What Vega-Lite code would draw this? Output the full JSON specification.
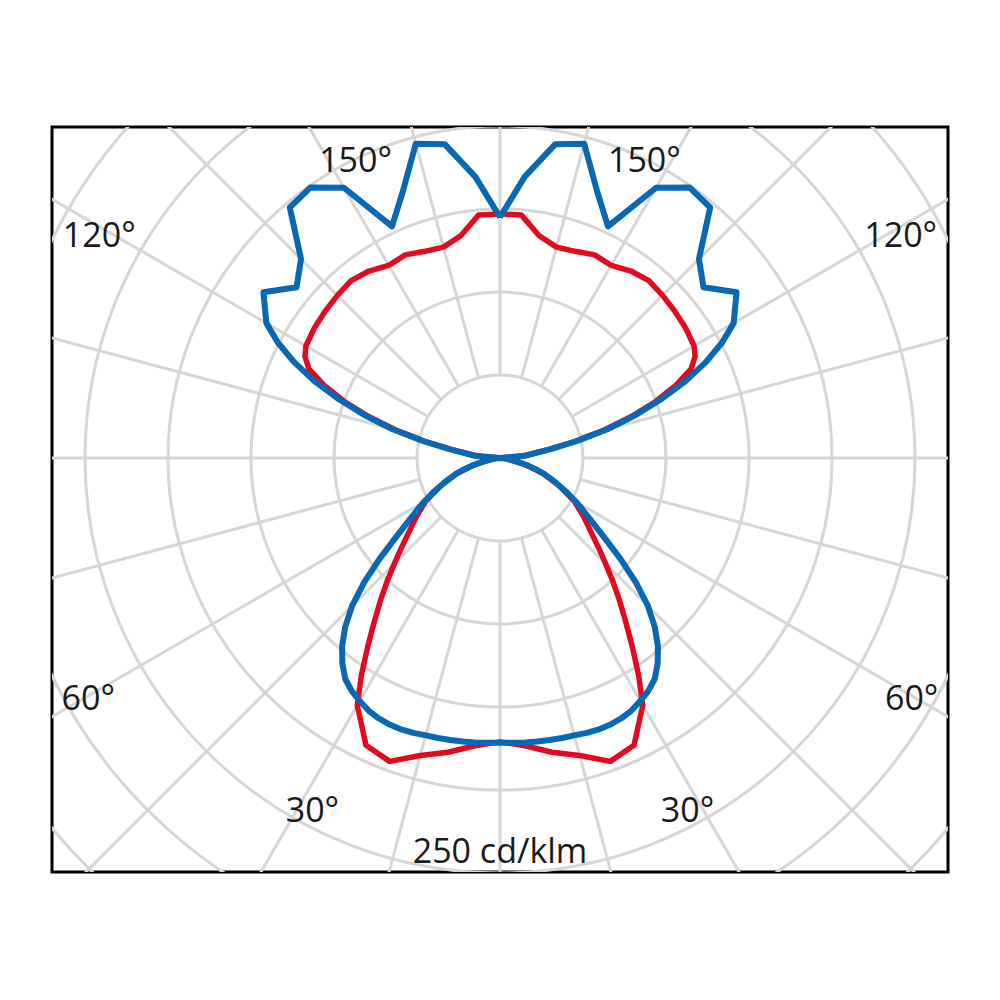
{
  "$schema": "https://vega.github.io/schema/vega-lite/v6.json",
  "width": 896,
  "height": 745,
  "autosize": {"type": "none"},
  "padding": {"left": 52, "top": 127, "right": 52, "bottom": 128},
  "background": "white",
  "config": {
    "view": {"stroke": "black", "strokeWidth": 3},
    "text": {"font": "Open Sans"}
  },
  "datasets": {
    "rings": [{"r": 50}, {"r": 100}, {"r": 150}, {"r": 200}, {"r": 250}, {"r": 300}, {"r": 350}, {"r": 400}],
    "spokes": [
      {"a": 0}, {"a": 15}, {"a": 30}, {"a": 45}, {"a": 60}, {"a": 75}, {"a": 90}, {"a": 105},
      {"a": 120}, {"a": 135}, {"a": 150}, {"a": 165}, {"a": 180}, {"a": 195}, {"a": 210}, {"a": 225},
      {"a": 240}, {"a": 255}, {"a": 270}, {"a": 285}, {"a": 300}, {"a": 315}, {"a": 330}, {"a": 345}
    ],
    "blue": [
      {"g": -180, "cd": 145}, {"g": -175, "cd": 170}, {"g": -170, "cd": 192}, {"g": -165, "cd": 196},
      {"g": -160, "cd": 171}, {"g": -155, "cd": 154}, {"g": -150, "cd": 188}, {"g": -145, "cd": 199},
      {"g": -140, "cd": 197}, {"g": -135, "cd": 169.5}, {"g": -130, "cd": 160}, {"g": -125, "cd": 174},
      {"g": -120, "cd": 162.5}, {"g": -117.5, "cd": 151}, {"g": -115, "cd": 137}, {"g": -112.5, "cd": 121},
      {"g": -110, "cd": 103}, {"g": -107.5, "cd": 85}, {"g": -105, "cd": 67}, {"g": -102.5, "cd": 48},
      {"g": -100, "cd": 31}, {"g": -95, "cd": 15}, {"g": -90, "cd": 0},
      {"g": -85, "cd": 3}, {"g": -80, "cd": 7}, {"g": -77.5, "cd": 11.5}, {"g": -75, "cd": 17},
      {"g": -72.5, "cd": 22.5}, {"g": -70, "cd": 28.5}, {"g": -67.5, "cd": 34}, {"g": -65, "cd": 39.5},
      {"g": -62.5, "cd": 46}, {"g": -60, "cd": 53}, {"g": -57.5, "cd": 60}, {"g": -55, "cd": 68.5},
      {"g": -52.5, "cd": 80}, {"g": -50, "cd": 95}, {"g": -47.5, "cd": 111}, {"g": -45, "cd": 126},
      {"g": -42.5, "cd": 138}, {"g": -40, "cd": 148}, {"g": -37.5, "cd": 156}, {"g": -35, "cd": 162.5},
      {"g": -32.5, "cd": 166.3}, {"g": -30, "cd": 169}, {"g": -27.5, "cd": 171.5}, {"g": -25, "cd": 173},
      {"g": -22.5, "cd": 173.8}, {"g": -20, "cd": 174}, {"g": -17.5, "cd": 173.6}, {"g": -15, "cd": 173},
      {"g": -12.5, "cd": 172.8}, {"g": -10, "cd": 172.5}, {"g": -7.5, "cd": 172.2}, {"g": -5, "cd": 172},
      {"g": -2.5, "cd": 171.7},
      {"g": 0, "cd": 171.5},
      {"g": 2.5, "cd": 171.7}, {"g": 5, "cd": 172}, {"g": 7.5, "cd": 172.2}, {"g": 10, "cd": 172.5},
      {"g": 12.5, "cd": 172.8}, {"g": 15, "cd": 173}, {"g": 17.5, "cd": 173.6}, {"g": 20, "cd": 174},
      {"g": 22.5, "cd": 173.8}, {"g": 25, "cd": 173}, {"g": 27.5, "cd": 171.5}, {"g": 30, "cd": 169},
      {"g": 32.5, "cd": 166.3}, {"g": 35, "cd": 162.5}, {"g": 37.5, "cd": 156}, {"g": 40, "cd": 148},
      {"g": 42.5, "cd": 138}, {"g": 45, "cd": 126}, {"g": 47.5, "cd": 111}, {"g": 50, "cd": 95},
      {"g": 52.5, "cd": 80}, {"g": 55, "cd": 68.5}, {"g": 57.5, "cd": 60}, {"g": 60, "cd": 53},
      {"g": 62.5, "cd": 46}, {"g": 65, "cd": 39.5}, {"g": 67.5, "cd": 34}, {"g": 70, "cd": 28.5},
      {"g": 72.5, "cd": 22.5}, {"g": 75, "cd": 17}, {"g": 77.5, "cd": 11.5}, {"g": 80, "cd": 7},
      {"g": 85, "cd": 3}, {"g": 90, "cd": 0},
      {"g": 95, "cd": 15}, {"g": 100, "cd": 31}, {"g": 102.5, "cd": 48}, {"g": 105, "cd": 67},
      {"g": 107.5, "cd": 85}, {"g": 110, "cd": 103}, {"g": 112.5, "cd": 121}, {"g": 115, "cd": 137},
      {"g": 117.5, "cd": 151}, {"g": 120, "cd": 162.5}, {"g": 125, "cd": 174}, {"g": 130, "cd": 160},
      {"g": 135, "cd": 169.5}, {"g": 140, "cd": 197}, {"g": 145, "cd": 199}, {"g": 150, "cd": 188},
      {"g": 155, "cd": 154}, {"g": 160, "cd": 171}, {"g": 165, "cd": 196}, {"g": 170, "cd": 192},
      {"g": 175, "cd": 170}, {"g": 180, "cd": 145}
    ],
    "red": [
      {"g": -180, "cd": 147}, {"g": -175, "cd": 147}, {"g": -170, "cd": 136}, {"g": -165, "cd": 131.5},
      {"g": -160, "cd": 132.5}, {"g": -155, "cd": 135}, {"g": -150, "cd": 134}, {"g": -145, "cd": 137.5},
      {"g": -140, "cd": 139.5}, {"g": -135, "cd": 138.5}, {"g": -130, "cd": 137.5}, {"g": -125, "cd": 136.5},
      {"g": -120, "cd": 135}, {"g": -117.5, "cd": 132.5}, {"g": -115, "cd": 127}, {"g": -112.5, "cd": 115},
      {"g": -110, "cd": 100}, {"g": -107.5, "cd": 83}, {"g": -105, "cd": 65}, {"g": -102.5, "cd": 46.5},
      {"g": -100, "cd": 30}, {"g": -95, "cd": 14}, {"g": -90, "cd": 0},
      {"g": -85, "cd": 2.5}, {"g": -80, "cd": 6.5}, {"g": -75, "cd": 16.5}, {"g": -70, "cd": 28},
      {"g": -65, "cd": 39}, {"g": -60, "cd": 51.5}, {"g": -55, "cd": 61.5}, {"g": -50, "cd": 73},
      {"g": -47.5, "cd": 81}, {"g": -45, "cd": 90}, {"g": -42.5, "cd": 100.5}, {"g": -40, "cd": 112},
      {"g": -37.5, "cd": 124.5}, {"g": -35, "cd": 139}, {"g": -32.5, "cd": 155.5}, {"g": -30, "cd": 172},
      {"g": -25, "cd": 191}, {"g": -20, "cd": 194.5}, {"g": -15, "cd": 185.5}, {"g": -10, "cd": 180},
      {"g": -5, "cd": 174},
      {"g": 0, "cd": 171},
      {"g": 5, "cd": 174}, {"g": 10, "cd": 180}, {"g": 15, "cd": 185.5}, {"g": 20, "cd": 194.5},
      {"g": 25, "cd": 191}, {"g": 30, "cd": 172}, {"g": 32.5, "cd": 155.5}, {"g": 35, "cd": 139},
      {"g": 37.5, "cd": 124.5}, {"g": 40, "cd": 112}, {"g": 42.5, "cd": 100.5}, {"g": 45, "cd": 90},
      {"g": 47.5, "cd": 81}, {"g": 50, "cd": 73}, {"g": 55, "cd": 61.5}, {"g": 60, "cd": 51.5},
      {"g": 65, "cd": 39}, {"g": 70, "cd": 28}, {"g": 75, "cd": 16.5}, {"g": 80, "cd": 6.5},
      {"g": 85, "cd": 2.5}, {"g": 90, "cd": 0},
      {"g": 95, "cd": 14}, {"g": 100, "cd": 30}, {"g": 102.5, "cd": 46.5}, {"g": 105, "cd": 65},
      {"g": 107.5, "cd": 83}, {"g": 110, "cd": 100}, {"g": 112.5, "cd": 115}, {"g": 115, "cd": 127},
      {"g": 117.5, "cd": 132.5}, {"g": 120, "cd": 135}, {"g": 125, "cd": 136.5}, {"g": 130, "cd": 137.5},
      {"g": 135, "cd": 138.5}, {"g": 140, "cd": 139.5}, {"g": 145, "cd": 137.5}, {"g": 150, "cd": 134},
      {"g": 155, "cd": 135}, {"g": 160, "cd": 132.5}, {"g": 165, "cd": 131.5}, {"g": 170, "cd": 136},
      {"g": 175, "cd": 147}, {"g": 180, "cd": 147}
    ],
    "labels": [
      {"t": "150°", "x": -87, "y": 172.3}, {"t": "150°", "x": 87, "y": 172.3},
      {"t": "120°", "x": -241.4, "y": 127.3}, {"t": "120°", "x": 241.4, "y": 127.3},
      {"t": "60°", "x": -248, "y": -151.8}, {"t": "60°", "x": 248, "y": -151.8},
      {"t": "30°", "x": -113, "y": -219.1}, {"t": "30°", "x": 113, "y": -219.1},
      {"t": "250 cd/klm", "x": 0, "y": -243.8}
    ]
  },
  "layer": [
    {
      "data": {"name": "rings"},
      "mark": {"type": "point", "shape": "circle", "filled": false, "color": "#d6d6d6", "strokeWidth": 3, "opacity": 1, "clip": true},
      "encoding": {
        "x": {"datum": 0, "type": "quantitative", "scale": {"domain": [-269.88, 269.88], "nice": false, "zero": false}, "axis": null},
        "y": {"datum": 0, "type": "quantitative", "scale": {"domain": [-249.4, 199.4], "nice": false, "zero": false}, "axis": null},
        "size": {"field": "r", "type": "quantitative", "scale": {"type": "pow", "exponent": 2, "domain": [0, 400], "range": [0, 1763584]}, "legend": null}
      }
    },
    {
      "data": {"name": "spokes"},
      "transform": [
        {"calculate": "50 * sin(datum.a * PI / 180)", "as": "xa"},
        {"calculate": "-50 * cos(datum.a * PI / 180)", "as": "ya"},
        {"calculate": "420 * sin(datum.a * PI / 180)", "as": "xb"},
        {"calculate": "-420 * cos(datum.a * PI / 180)", "as": "yb"}
      ],
      "mark": {"type": "rule", "color": "#d6d6d6", "strokeWidth": 3, "clip": true},
      "encoding": {
        "x": {"field": "xa", "type": "quantitative"},
        "y": {"field": "ya", "type": "quantitative"},
        "x2": {"field": "xb"},
        "y2": {"field": "yb"}
      }
    },
    {
      "data": {"name": "red"},
      "transform": [
        {"calculate": "datum.cd * sin(datum.g * PI / 180)", "as": "px"},
        {"calculate": "-datum.cd * cos(datum.g * PI / 180)", "as": "py"}
      ],
      "mark": {"type": "line", "color": "#e10a1e", "strokeWidth": 5.5, "strokeJoin": "round", "clip": true},
      "encoding": {
        "x": {"field": "px", "type": "quantitative"},
        "y": {"field": "py", "type": "quantitative"},
        "order": {"field": "g", "type": "quantitative"}
      }
    },
    {
      "data": {"name": "blue"},
      "transform": [
        {"calculate": "datum.cd * sin(datum.g * PI / 180)", "as": "px"},
        {"calculate": "-datum.cd * cos(datum.g * PI / 180)", "as": "py"}
      ],
      "mark": {"type": "line", "color": "#0868b4", "strokeWidth": 6, "strokeJoin": "round", "clip": true},
      "encoding": {
        "x": {"field": "px", "type": "quantitative"},
        "y": {"field": "py", "type": "quantitative"},
        "order": {"field": "g", "type": "quantitative"}
      }
    },
    {
      "data": {"name": "labels"},
      "mark": {"type": "text", "fontSize": 34, "align": "center", "baseline": "alphabetic", "color": "#1a1a1a"},
      "encoding": {
        "x": {"field": "x", "type": "quantitative"},
        "y": {"field": "y", "type": "quantitative"},
        "text": {"field": "t"}
      }
    }
  ]
}
